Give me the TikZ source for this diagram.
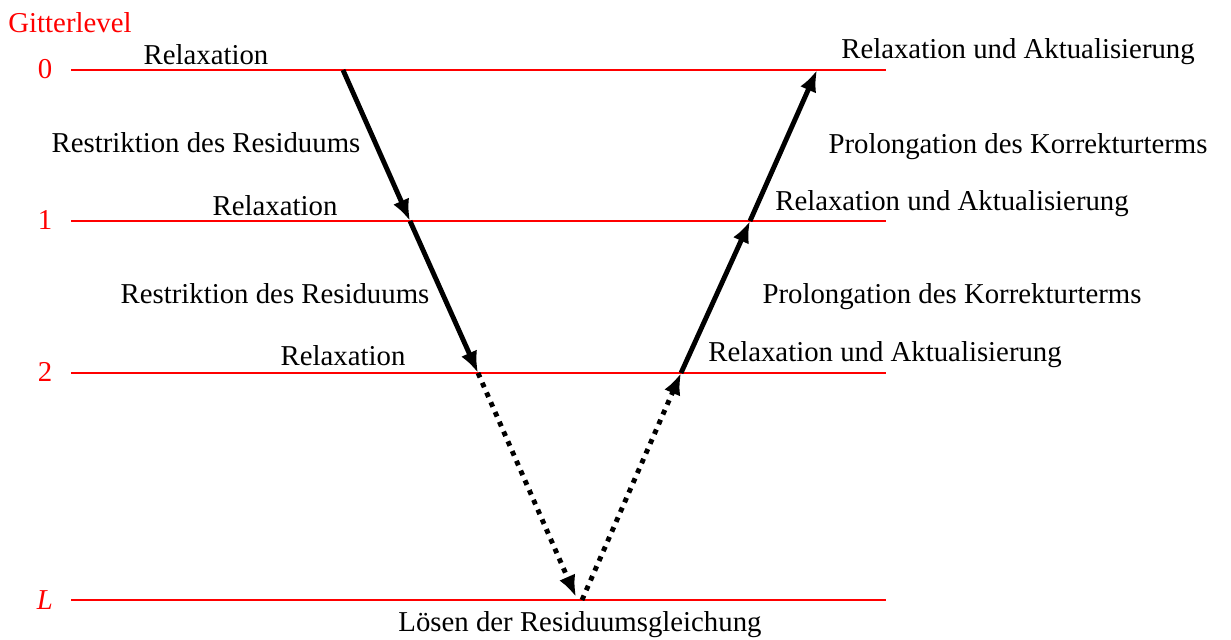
\documentclass[tikz,border=0pt]{standalone}
\usepackage{fontspec}
\setmainfont{Liberation Serif}
\usetikzlibrary{arrows.meta}
\tikzset{
	gitter/.style={red, line width=0.45pt},
	gitterlabel/.style={red, anchor=base, inner sep=0pt},
	txt/.style={anchor=base, inner sep=0pt},
	pfeil/.style={line width=1.7pt, -{Latex[length=7.5pt,width=6pt]}},
	pfeilpunkt/.style={pfeil, dotted}
}
\newcommand{\gitter}[3] % name, y in px, label
{
	% level line
	\draw[gitter] (71,#2) -- (886,#2);
	% level label
	\node[gitterlabel] (#1) at (45,#2+9) {#3};
}

\begin{document}
\begin{tikzpicture}[x=0.0122cm, y=-0.0122cm]
	% 1231 x 640 px frame
	\useasboundingbox (0,0) rectangle (1231,640);
	\node[gitterlabel] (titel) at (70,33) {Gitterlevel};
	\gitter{l0}{70}{0};
	\gitter{l1}{221}{1};
	\gitter{l2}{373}{2};
	\gitter{lL}{600}{\textit{L}};
	
	% corners of the V
	\coordinate (r0) at (343,70);
	\coordinate (r1) at (410,221);
	\coordinate (r2) at (478,373);
	\coordinate (s) at (582,600);
	\coordinate (s1) at (576,597);
	\coordinate (p2) at (681,373);
	\coordinate (p1) at (750,221);
	\coordinate (p0) at (817,70);
	
	\draw[pfeil] (r0) -- (r1);
	\draw[pfeil] (r1) -- (r2);
	\draw[pfeilpunkt] (r2) -- (s1);
	\draw[pfeilpunkt] (s) -- (p2);
	\draw[pfeil] (p2) -- (p1);
	\draw[pfeil] (p1) -- (p0);
	
	% left side
	\node[txt] (rel0) at (206,65) {Relaxation};
	\node[txt] (res0) at (206,153) {Restriktion des Residuums};
	\node[txt] (rel1) at (275,216) {Relaxation};
	\node[txt] (res1) at (275,304) {Restriktion des Residuums};
	\node[txt] (rel2) at (343,366) {Relaxation};
	
	% bottom
	\node[txt] (loes) at (580,632) {Lösen der Residuumsgleichung};
	
	% right side
	\node[txt] (akt0) at (1018,59) {Relaxation und Aktualisierung};
	\node[txt] (pro0) at (1018,154) {Prolongation des Korrekturterms};
	\node[txt] (akt1) at (952,211) {Relaxation und Aktualisierung};
	\node[txt] (pro1) at (952,304) {Prolongation des Korrekturterms};
	\node[txt] (akt2) at (885,362) {Relaxation und Aktualisierung};
\end{tikzpicture}
\end{document}
